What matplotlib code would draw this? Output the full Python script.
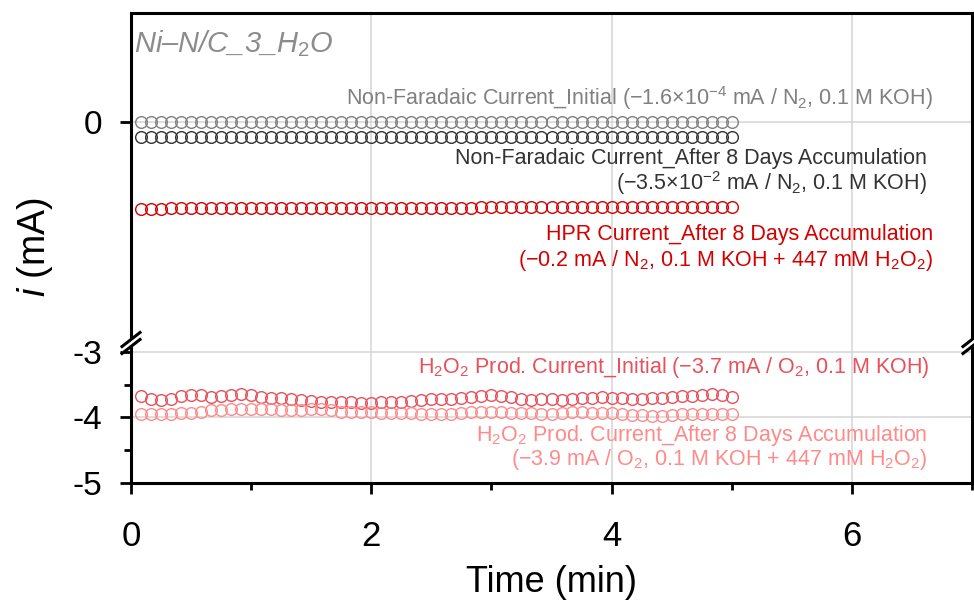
import matplotlib
matplotlib.use("Agg")
import matplotlib.pyplot as plt
from matplotlib.lines import Line2D
from matplotlib.patches import Polygon
from matplotlib.ticker import MultipleLocator, FixedLocator

plt.rcParams['font.family'] = ['Liberation Sans', 'DejaVu Sans']
plt.rcParams['mathtext.fontset'] = 'custom'
plt.rcParams['mathtext.rm'] = 'Liberation Sans'
plt.rcParams['mathtext.it'] = 'Liberation Sans:italic'
plt.rcParams['mathtext.bf'] = 'Liberation Sans:bold'

# ---------------- data ----------------
time_s = [5, 10, 15, 20, 25, 30, 35, 40, 45, 50, 55, 60, 65, 70, 75, 80, 85, 90, 95, 100,
          105, 110, 115, 120, 125, 130, 135, 140, 145, 150, 155, 160, 165, 170, 175, 180, 185, 190, 195, 200,
          205, 210, 215, 220, 225, 230, 235, 240, 245, 250, 255, 260, 265, 270, 275, 280, 285, 290, 295, 300]
time_min = [t / 60 for t in time_s]

nf_initial = [-0.00016] * 60
nf_after = [-0.035, -0.035, -0.035, -0.035, -0.035, -0.035, -0.035, -0.035, -0.035, -0.035,
            -0.035, -0.035, -0.035, -0.035, -0.035, -0.035, -0.035, -0.035, -0.035, -0.035,
            -0.035, -0.035, -0.035, -0.035, -0.035, -0.035, -0.035, -0.035, -0.035, -0.035,
            -0.035, -0.035, -0.035, -0.035, -0.035, -0.035, -0.035, -0.035, -0.035, -0.035,
            -0.035, -0.035, -0.035, -0.035, -0.035, -0.035, -0.035, -0.035, -0.035, -0.035,
            -0.035, -0.035, -0.035, -0.035, -0.035, -0.035, -0.035, -0.035, -0.035, -0.035]
hpr_after = [-0.201, -0.201, -0.201, -0.200, -0.200, -0.200, -0.200, -0.200, -0.200, -0.200,
             -0.200, -0.200, -0.200, -0.200, -0.200, -0.200, -0.200, -0.200, -0.200, -0.200,
             -0.199, -0.199, -0.199, -0.199, -0.199, -0.199, -0.199, -0.199, -0.199, -0.199,
             -0.199, -0.199, -0.199, -0.199, -0.198, -0.198, -0.198, -0.198, -0.198, -0.198,
             -0.198, -0.198, -0.198, -0.198, -0.198, -0.197, -0.197, -0.197, -0.197, -0.197,
             -0.197, -0.197, -0.196, -0.196, -0.196, -0.196, -0.196, -0.196, -0.196, -0.196]
h2o2_initial = [-3.67, -3.72, -3.74, -3.72, -3.67, -3.66, -3.66, -3.69, -3.67, -3.65,
                -3.645, -3.66, -3.69, -3.70, -3.71, -3.72, -3.74, -3.75, -3.76, -3.765,
                -3.76, -3.77, -3.775, -3.775, -3.77, -3.765, -3.76, -3.75, -3.73, -3.72,
                -3.72, -3.72, -3.71, -3.69, -3.67, -3.66, -3.67, -3.69, -3.72, -3.74,
                -3.72, -3.72, -3.74, -3.72, -3.71, -3.70, -3.69, -3.70, -3.71, -3.72,
                -3.72, -3.71, -3.70, -3.69, -3.67, -3.67, -3.66, -3.645, -3.66, -3.69]
h2o2_after = [-3.95, -3.95, -3.95, -3.94, -3.935, -3.925, -3.91, -3.89, -3.89, -3.875,
              -3.875, -3.875, -3.875, -3.875, -3.89, -3.89, -3.89, -3.875, -3.875, -3.89,
              -3.91, -3.91, -3.91, -3.91, -3.925, -3.925, -3.925, -3.925, -3.94, -3.95,
              -3.95, -3.94, -3.925, -3.91, -3.91, -3.91, -3.91, -3.925, -3.925, -3.925,
              -3.95, -3.94, -3.925, -3.91, -3.91, -3.925, -3.925, -3.925, -3.94, -3.96,
              -3.965, -3.975, -3.975, -3.96, -3.95, -3.95, -3.94, -3.94, -3.95, -3.95]

x_ticks = [0, 2, 4, 6]
top_yticks = [0]
bottom_yticks = [-3, -4, -5]

# ---------------- colours ----------------
c_grey = '#808080'
c_dark = '#333333'
c_red = '#d40000'
c_init = '#e8505a'
c_after = '#ff8a8a'
c_title = '#8c8c8c'
c_grid = '#d4d4d4'

W, H = 974, 603
fig = plt.figure(figsize=(W / 100, H / 100), dpi=100)

def fx(x):
    return x / W

def fy(y):
    return 1 - y / H

left, right = 131, 972
top, brk, bottom = 13, 343, 483
ax_t = fig.add_axes([fx(left), fy(brk), fx(right - left), (brk - top) / H])
ax_b = fig.add_axes([fx(left), fy(bottom), fx(right - left), (bottom - brk) / H])

ms = 8.4
mew = 1.0
ax_t.plot(time_min, nf_initial, 'o', mfc='none', mec=c_grey, ms=ms, mew=mew, zorder=3)
ax_t.plot(time_min, nf_after, 'o', mfc='none', mec=c_dark, ms=ms, mew=mew, zorder=3)
ax_t.plot(time_min, hpr_after, 'o', mfc='none', mec=c_red, ms=ms, mew=mew, zorder=3)
ax_b.plot(time_min, h2o2_initial, 'o', mfc='none', mec=c_init, ms=ms, mew=mew, zorder=3)
ax_b.plot(time_min, h2o2_after, 'o', mfc='none', mec=c_after, ms=ms, mew=mew, zorder=3)

for ax in (ax_t, ax_b):
    ax.set_xlim(0, 7)
    ax.xaxis.set_major_locator(FixedLocator(x_ticks))
    ax.xaxis.set_minor_locator(MultipleLocator(1))
    ax.grid(True, which='major', color=c_grid, lw=1.1, zorder=0)
    ax.set_axisbelow(True)
    for s in ax.spines.values():
        s.set_linewidth(2.2)
        s.set_color('black')

ytick_fs = 24
ax_t.set_ylim(-0.512, 0.252)
ax_t.yaxis.set_major_locator(FixedLocator(top_yticks))
ax_t.spines['bottom'].set_visible(False)
ax_t.tick_params(axis='x', which='both', bottom=False, labelbottom=False)
ax_t.tick_params(axis='y', which='major', direction='out', length=8, width=2.0, labelsize=ytick_fs, pad=13)
ax_t.set_yticklabels(['0'])

ax_b.set_ylim(-5, -2.863)
ax_b.yaxis.set_major_locator(FixedLocator(bottom_yticks))
ax_b.yaxis.set_minor_locator(MultipleLocator(0.5))
ax_b.set_yticklabels(['-3', '-4', '-5'])
ax_b.spines['top'].set_visible(False)
ax_b.tick_params(axis='y', which='major', direction='out', length=8, width=2.0, labelsize=ytick_fs, pad=13)
ax_b.tick_params(axis='y', which='minor', direction='out', length=5, width=2.0)
ax_b.tick_params(axis='x', which='major', direction='out', length=8, width=2.0, labelsize=25, pad=19)
ax_b.tick_params(axis='x', which='minor', direction='out', length=5, width=2.0)
ax_b.set_xlabel('Time (min)', fontsize=26, labelpad=8)

# y label
fig.text(fx(35), fy(247), r'$\it{i}$ (mA)', rotation=90, ha='center', va='center', fontsize=27)

# sample title
fig.text(fx(134), fy(44), r'Ni–N/C_3_H$_2$O', ha='left', va='center',
         fontsize=21, color=c_title, style='italic')

# annotations (right aligned, baseline)
fs = 15.5
ann = [
    (933, 105, r'Non-Faradaic Current_Initial (−1.6×10$^{-4}$ mA / N$_2$, 0.1 M KOH)', c_grey),
    (927, 164, r'Non-Faradaic Current_After 8 Days Accumulation', c_dark),
    (927, 190, r'(−3.5×10$^{-2}$ mA / N$_2$, 0.1 M KOH)', c_dark),
    (933, 240, r'HPR Current_After 8 Days Accumulation', c_red),
    (933, 266, r'(−0.2 mA / N$_2$, 0.1 M KOH + 447 mM H$_2$O$_2$)', c_red),
    (929, 373, r'H$_2$O$_2$ Prod. Current_Initial (−3.7 mA / O$_2$, 0.1 M KOH)', c_init),
    (927, 441, r'H$_2$O$_2$ Prod. Current_After 8 Days Accumulation', c_after),
    (927, 465, r'(−3.9 mA / O$_2$, 0.1 M KOH + 447 mM H$_2$O$_2$)', c_after),
]
for x, y, s, c in ann:
    fig.text(fx(x), fy(y), s, ha='right', va='baseline', fontsize=fs, color=c)

# axis-break marks on left and right spines
for xc in (left, right):
    dx, dy, gap = 9, 7, 3.5
    poly = Polygon([(fx(xc - dx), fy(brk + dy - gap)), (fx(xc + dx), fy(brk - dy - gap)),
                    (fx(xc + dx), fy(brk - dy + gap)), (fx(xc - dx), fy(brk + dy + gap))],
                   closed=True, transform=fig.transFigure, facecolor='white',
                   edgecolor='none', zorder=10)
    fig.add_artist(poly)
    for g in (-gap, gap):
        fig.add_artist(Line2D([fx(xc - dx), fx(xc + dx)], [fy(brk + dy + g), fy(brk - dy + g)],
                              transform=fig.transFigure, color='black', lw=2.2, zorder=11))

fig.savefig('out.png', dpi=100)
